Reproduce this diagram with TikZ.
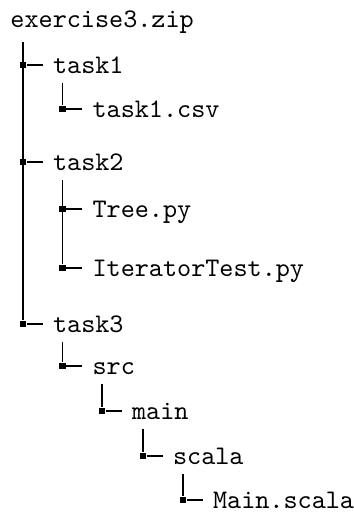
\documentclass[tikz,border=0pt]{standalone}
\usepackage{tikz}
\usetikzlibrary{positioning}

\begin{document}
\begin{tikzpicture}[x=0.3723pt,y=-0.3723pt,
entry/.style={anchor=west,font=\ttfamily,inner xsep=3.7pt,inner ysep=3.3pt,text height=6.1pt,text depth=0pt},
knot/.style={fill,minimum size=2.4pt,inner sep=0pt},
branch/.style={line width=0.6pt}]
\useasboundingbox (0,0) rectangle (354,513);
\node[entry,anchor=base west,inner ysep=5.5pt] (zip) at (0,27) {exercise3.zip};
% first level
\node[knot] (k1) at (23,65) {};
\node[knot] (k2) at (23,162) {};
\node[knot] (k3) at (23,324) {};
\node[entry,right=5.9pt of k1] (t1) {task1};
\node[entry,right=5.9pt of k2] (t2) {task2};
\node[entry,right=5.9pt of k3] (t3) {task3};
\draw[branch] (zip.south -| k1) -- (k3);
\draw[branch] (k1) -- (t1); \draw[branch] (k2) -- (t2); \draw[branch] (k3) -- (t3);
% task1
\node[knot] (k11) at (62.5,109) {};
\node[entry,right=5.9pt of k11] (csv) {task1.csv};
\draw[branch] (t1.south -| k11) -- (k11) -- (csv);
% task2
\node[knot] (k21) at (62.5,209) {};
\node[knot] (k22) at (62.5,268) {};
\node[entry,right=5.9pt of k21] (tree) {Tree.py};
\node[entry,right=5.9pt of k22] (iter) {IteratorTest.py};
\draw[branch] (t2.south -| k21) -- (k22);
\draw[branch] (k21) -- (tree); \draw[branch] (k22) -- (iter);
% task3
\node[knot] (k31) at (62.5,366) {};
\node[knot] (k32) at (102,411) {};
\node[knot] (k33) at (143,456) {};
\node[knot] (k34) at (183,500) {};
\node[entry,right=5.9pt of k31] (src) {src};
\node[entry,right=5.9pt of k32] (mn) {main};
\node[entry,right=5.9pt of k33] (sc) {scala};
\node[entry,right=5.9pt of k34] (ms) {Main.scala};
\draw[branch] (t3.south -| k31) -- (k31) -- (src);
\draw[branch] (src.south -| k32) -- (k32) -- (mn);
\draw[branch] (mn.south -| k33) -- (k33) -- (sc);
\draw[branch] (sc.south -| k34) -- (k34) -- (ms);
\end{tikzpicture}
\end{document}
